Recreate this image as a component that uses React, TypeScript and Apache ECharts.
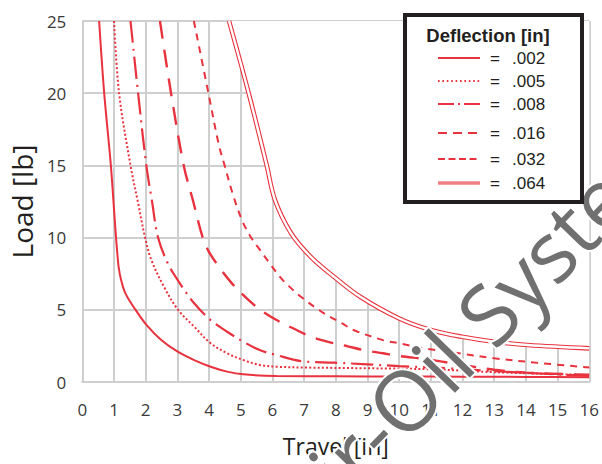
import React, { useEffect, useRef } from "react";
import * as echarts from "echarts";

const RED = "#e8323e";
const GRID = "#cfcfcf";
const FONT = "'Open Sans', Lato, sans-serif";
const LEG_FONT = "'Liberation Sans', Arial, sans-serif";

const X_MIN = 0;
const X_MAX = 16;
const X_STEP = 1;
const Y_MIN = 0;
const Y_MAX = 25;
const Y_STEP = 5;

const deflections = [".002", ".005", ".008", ".016", ".032", ".064"];

const d002 = [[0.53, 25], [0.69, 20], [0.9, 15], [1.03, 11], [1.1, 9], [1.15, 7.9], [1.22, 7.1], [1.36, 6.14], [1.67, 5.03], [2.03, 3.94], [2.49, 2.91], [3.01, 2.1], [3.53, 1.52], [4.05, 1.06], [4.57, 0.72], [5.08, 0.53], [6.12, 0.42], [8, 0.4], [10, 0.38], [12, 0.37], [14, 0.35], [16, 0.33]];
const d005 = [[1.0, 25], [1.16, 20], [1.52, 15], [1.75, 12.5], [1.98, 10], [2.18, 8.44], [2.6, 6.5], [3.01, 5.03], [3.53, 3.83], [4.05, 2.68], [4.57, 1.99], [5.08, 1.52], [5.6, 1.18], [6.12, 1.06], [7.1, 1.0], [9, 0.95], [11, 0.88], [13, 0.68], [16, 0.48]];
const d008 = [[1.52, 25], [1.76, 20], [2.02, 15], [2.2, 12.5], [2.39, 10], [2.7, 8.2], [3.01, 7.06], [3.53, 5.45], [4.05, 4.29], [4.57, 3.48], [5.08, 2.79], [5.6, 2.21], [6.12, 1.87], [6.9, 1.45], [7.94, 1.34], [9, 1.22], [10, 1.1], [11.5, 0.95], [13, 0.75], [16, 0.42]];
const d016 = [[2.45, 25], [2.8, 20], [3.2, 15], [3.5, 12.5], [3.8, 10], [4.0, 9.0], [4.37, 7.8], [4.72, 6.83], [5.19, 5.79], [5.6, 5.03], [6.13, 4.29], [6.65, 3.72], [7.21, 3.14], [7.73, 2.79], [8.35, 2.49], [8.87, 2.21], [9.49, 1.99], [10.0, 1.8], [10.9, 1.57], [12, 1.18], [13, 0.85], [14, 0.65], [16, 0.5]];
const d032 = [[3.52, 25], [3.98, 20], [4.3, 16.5], [4.49, 15], [4.75, 13.0], [5.04, 11.2], [5.3, 10.1], [5.61, 9.13], [5.92, 8.2], [6.23, 7.29], [6.49, 6.7], [6.9, 5.9], [7.63, 4.75], [8.2, 4.06], [8.56, 3.6], [9.49, 2.9], [10.0, 2.68], [10.8, 2.33], [12, 1.95], [13, 1.64], [14.5, 1.3], [16, 1.0]];
const d064 = [[4.63, 25], [5.25, 20], [5.82, 15], [6.08, 12.6], [6.59, 10.3], [7.21, 8.67], [7.94, 7.29], [8.77, 5.9], [10.0, 4.4], [11, 3.6], [11.98, 3.13], [13, 2.79], [14.05, 2.56], [16, 2.33]];

const seriesData = [d002, d005, d008, d016, d032, d064];
const chartDash: (string | number[])[] = ["solid", [2, 2.2], [22, 6, 2, 6], [18, 11], [7, 6]];
const chartWidth = [2, 2, 2.2, 2.4, 2];

const legendDash: (number[] | null)[] = [null, [1.6, 2.8], [16, 4, 2, 4], [9, 6], [7, 3.5], null];
const legendRows = [58, 81, 104, 133, 159, 183];

export default function App() {
  const ref = useRef<HTMLDivElement>(null);
  useEffect(() => {
    const chart = echarts.init(ref.current!, null, { renderer: "svg" });

    const series: any[] = [];
    for (let i = 0; i < 5; i++) {
      series.push({
        type: "line",
        name: deflections[i],
        data: seriesData[i],
        symbol: "none",
        smooth: 0.35,
        silent: true,
        z: 3,
        lineStyle: { color: RED, width: chartWidth[i], type: chartDash[i], cap: "butt" },
      });
    }
    series.push({
      type: "line",
      name: deflections[5],
      data: d064,
      symbol: "none",
      smooth: 0.35,
      silent: true,
      z: 4,
      lineStyle: { color: RED, width: 4.6 },
      areaStyle: { color: "#ffffff", opacity: 1, origin: "end" },
    });
    series.push({
      type: "line",
      name: deflections[5] + "-inner",
      data: d064,
      symbol: "none",
      smooth: 0.35,
      silent: true,
      z: 5,
      lineStyle: { color: "#ffffff", width: 2.4 },
    });

    const LZ = 100;
    const legendChildren: any[] = [
      {
        type: "rect",
        z: LZ,
        shape: { x: 405, y: 15, width: 177, height: 187 },
        style: { fill: "#ffffff", stroke: "#231f20", lineWidth: 4 },
      },
      {
        type: "text",
        z: LZ + 1,
        x: 488,
        y: 35,
        style: {
          text: "Deflection [in]",
          fontFamily: LEG_FONT,
          fontWeight: "bold",
          fontSize: 18.5,
          fill: "#231f20",
          textAlign: "center",
          textVerticalAlign: "middle",
        },
      },
    ];
    deflections.forEach((d, i) => {
      const y = legendRows[i];
      if (i === 5) {
        legendChildren.push({
          type: "line",
          z: LZ + 1,
          shape: { x1: 438, y1: y, x2: 480, y2: y },
          style: { stroke: "#ef7f85", lineWidth: 3.6 },
        });
      } else {
        const st: any = { stroke: RED, lineWidth: i === 1 ? 1.8 : 2.2 };
        if (legendDash[i]) st.lineDash = legendDash[i];
        legendChildren.push({
          type: "line",
          z: LZ + 1,
          shape: { x1: 438, y1: y, x2: 480, y2: y },
          style: st,
        });
      }
      legendChildren.push({
        type: "text",
        z: LZ + 1,
        x: 495,
        y: y,
        style: {
          text: "=",
          fontFamily: LEG_FONT,
          fontSize: 17,
          fill: "#231f20",
          textAlign: "center",
          textVerticalAlign: "middle",
        },
      });
      legendChildren.push({
        type: "text",
        z: LZ + 1,
        x: 512,
        y: y,
        style: {
          text: d,
          fontFamily: LEG_FONT,
          fontSize: 17,
          fill: "#231f20",
          textAlign: "left",
          textVerticalAlign: "middle",
        },
      });
    });

    chart.setOption({
      animation: false,
      backgroundColor: "#ffffff",
      grid: { left: 81, right: 6, top: 21, bottom: 82 },
      xAxis: {
        type: "value",
        min: X_MIN,
        max: X_MAX,
        interval: X_STEP,
        name: "Travel [in]",
        nameLocation: "middle",
        nameGap: 52,
        nameTextStyle: { fontSize: 23, color: "#231f20", fontFamily: FONT },
        axisLine: { show: true, lineStyle: { color: GRID, width: 2 } },
        axisTick: { show: false },
        splitLine: { show: true, lineStyle: { color: GRID, width: 2 } },
        axisLabel: { color: "#3a3a3a", fontSize: 17, fontFamily: FONT, margin: 19 },
      },
      yAxis: {
        type: "value",
        min: Y_MIN,
        max: Y_MAX,
        interval: Y_STEP,
        name: "Load [lb]",
        nameLocation: "middle",
        nameGap: 38,
        nameTextStyle: { fontSize: 28, color: "#231f20", fontFamily: FONT },
        axisLine: { show: true, lineStyle: { color: GRID, width: 2 } },
        axisTick: { show: false },
        splitLine: { show: true, lineStyle: { color: GRID, width: 2 } },
        axisLabel: { color: "#3a3a3a", fontSize: 17, fontFamily: FONT, margin: 16 },
      },
      series,
      graphic: [
        {
          type: "text",
          z: 50,
          x: 287,
          y: 520,
          rotation: (46 * Math.PI) / 180,
          silent: true,
          style: {
            text: "Air-Oil Systems",
            fontFamily: FONT,
            fontSize: 84,
            fill: "#707070",
            stroke: "#ffffff",
            lineWidth: 4,
            textAlign: "left",
            textVerticalAlign: "middle",
          },
        },
        { type: "group", children: legendChildren },
      ],
    });
    return () => chart.dispose();
  }, []);
  return (
    <div
      ref={ref}
      style={{ position: "absolute", left: 0, top: 0, width: 602, height: 464, background: "#fff" }}
    />
  );
}
